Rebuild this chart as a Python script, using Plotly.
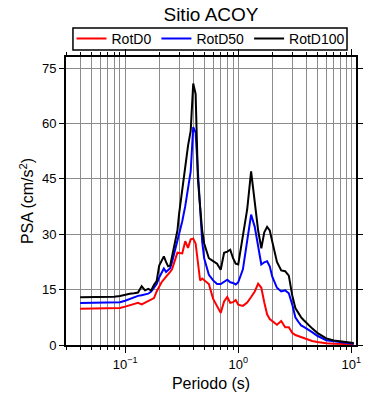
import plotly.graph_objects as go
import math

periods = [0.04, 0.05, 0.06, 0.07, 0.08, 0.09, 0.1, 0.11, 0.12, 0.13, 0.14, 0.15, 0.16, 0.17,
           0.18, 0.19, 0.2, 0.21, 0.22, 0.23, 0.24, 0.25, 0.26, 0.27, 0.28, 0.29, 0.30, 0.32,
           0.34, 0.36, 0.38, 0.40, 0.42, 0.44, 0.46, 0.48, 0.50, 0.55, 0.60, 0.65, 0.70, 0.75,
           0.80, 0.85, 0.90, 0.95, 1.0, 1.1, 1.2, 1.3, 1.4, 1.5, 1.6, 1.7, 1.8, 1.9, 2.0, 2.2,
           2.4, 2.6, 2.8, 3.0, 3.2, 3.4, 3.6, 3.8, 4.0, 4.5, 5.0, 5.5, 6.0, 7.0, 8.0, 9.0, 10.0, 10.5]

rotd0 = [9.8, 9.8, 9.9, 9.9, 9.9, 10.0, 10.4, 10.7, 11.0, 11.4, 11.0, 11.5, 12.0, 12.3,
         12.7, 14.5, 16.0, 17.0, 17.8, 18.4, 19.0, 19.8, 20.5, 22.5, 23.6, 25.0, 25.0, 24.8,
         28.1, 26.3, 28.6, 28.8, 27.5, 22.0, 17.5, 18.0, 17.5, 16.5, 12.5, 10.5, 8.7, 11.8,
         13.0, 11.4, 11.6, 12.2, 10.9, 10.6, 11.5, 13.0, 14.5, 16.6, 15.5, 11.5, 8.3, 7.0, 6.5, 5.5,
         6.5, 4.8, 4.8, 3.3, 2.7, 2.4, 2.2, 2.0, 1.6, 1.1, 0.8, 0.6, 0.5, 0.35, 0.3, 0.25, 0.2, 0.2]

rotd50 = [11.4, 11.4, 11.5, 11.5, 11.6, 11.6, 12.0, 12.5, 13.0, 13.3, 13.5, 13.6, 13.9, 14.5,
          15.5, 16.5, 18.3, 19.5, 20.7, 19.8, 20.2, 20.8, 22.5, 24.5, 26.5, 28.5, 30.3, 33.5,
          37.6, 42.0, 47.0, 59.0, 57.5, 47.0, 37.0, 28.0, 23.5, 19.0, 17.5, 16.5, 16.5, 17.2,
          17.7, 17.0, 16.8, 16.4, 17.0, 20.5, 28.5, 35.3, 32.0, 26.5, 21.8, 22.4, 22.7, 21.3, 18.5, 15.5,
          14.5, 14.8, 14.0, 11.0, 7.5, 6.3, 5.3, 4.9, 4.5, 3.5, 2.5, 1.8, 1.3, 1.0, 0.8, 0.6, 0.4, 0.35]

rotd100 = [12.9, 12.9, 13.0, 13.1, 13.1, 13.3, 13.7, 13.9, 14.0, 14.2, 15.9, 14.8, 15.2, 14.8,
           16.3, 17.3, 21.5, 23.0, 24.0, 22.5, 21.3, 21.5, 24.0, 26.5, 28.5, 31.0, 35.5, 42.5,
           48.4, 54.0, 58.0, 70.8, 68.0, 45.0, 37.5, 31.0, 27.5, 23.5, 22.7, 22.0, 20.4, 25.0,
           25.3, 25.8, 23.5, 22.0, 21.8, 30.0, 36.7, 47.0, 38.0, 31.0, 26.2, 30.5, 32.0, 31.0, 28.0, 22.5,
           20.2, 20.0, 18.8, 13.5, 10.0, 8.5, 7.5, 6.7, 6.0, 4.5, 3.3, 2.5, 1.8, 1.2, 1.0, 0.8, 0.6, 0.55]

series_names = ["RotD0", "RotD50", "RotD100"]
series_colors = ["#ff0000", "#0000ff", "#000000"]
series_values = [rotd0, rotd50, rotd100]

x_tickvals = [0.1, 1, 10]
x_ticktext = ["10<sup>\u22121</sup>", "10<sup>0</sup>", "10<sup>1</sup>"]
y_tickvals = [0, 15, 30, 45, 60, 75]

fig = go.Figure()
for name, color, vals in zip(series_names, series_colors, series_values):
    fig.add_trace(go.Scatter(x=periods, y=vals, mode="lines", name=name,
                             line=dict(color=color, width=2)))

font_family = "Liberation Sans, Arial, sans-serif"
fig.update_layout(
    width=390, height=400,
    margin=dict(l=66, r=34, t=57, b=55, autoexpand=False),
    paper_bgcolor="white", plot_bgcolor="white",
    font=dict(family=font_family, size=13, color="#000"),
    title=dict(text="Sitio ACOY", x=0.541, xanchor="center", y=0.965, yanchor="middle",
               font=dict(size=19, color="#000")),
    legend=dict(orientation="h", x=0.5, xanchor="center", y=1.0625, yanchor="middle",
                borderwidth=0, bgcolor="rgba(0,0,0,0)",
                font=dict(size=14), tracegroupgap=0),
    showlegend=True,
    shapes=[dict(type="rect", xref="paper", yref="paper",
                 x0=0.024, x1=0.969, y0=1.0243, y1=1.1007,
                 line=dict(color="#000", width=1.5), fillcolor="rgba(0,0,0,0)", layer="below")],
)

fig.update_xaxes(
    type="log", range=[math.log10(0.03), math.log10(11)],
    tickvals=x_tickvals, ticktext=x_ticktext,
    ticks="outside", ticklen=6, tickcolor="#000", tickwidth=1,
    showline=True, linecolor="#000", linewidth=2, mirror="ticks",
    showgrid=True, gridcolor="#8c8c8c", gridwidth=1,
    minor=dict(ticks="outside", ticklen=3, tickcolor="#000", showgrid=True,
               gridcolor="#8c8c8c", gridwidth=1, dtick="D1"),
    title=dict(text="Periodo (s)", font=dict(size=16), standoff=7),
    tickfont=dict(size=13), zeroline=False,
)
fig.update_yaxes(
    range=[0, 78], tickvals=y_tickvals,
    ticks="outside", ticklen=5, tickcolor="#000", tickwidth=1,
    showline=True, linecolor="#000", linewidth=2, mirror="ticks",
    showgrid=True, gridcolor="#8c8c8c", gridwidth=1,
    title=dict(text="PSA (cm/s<sup>2</sup>)", font=dict(size=16), standoff=4),
    tickfont=dict(size=13), zeroline=False,
)

fig.write_html("out.html", config={"displayModeBar": False},
               post_script="document.body.style.margin='0';")
